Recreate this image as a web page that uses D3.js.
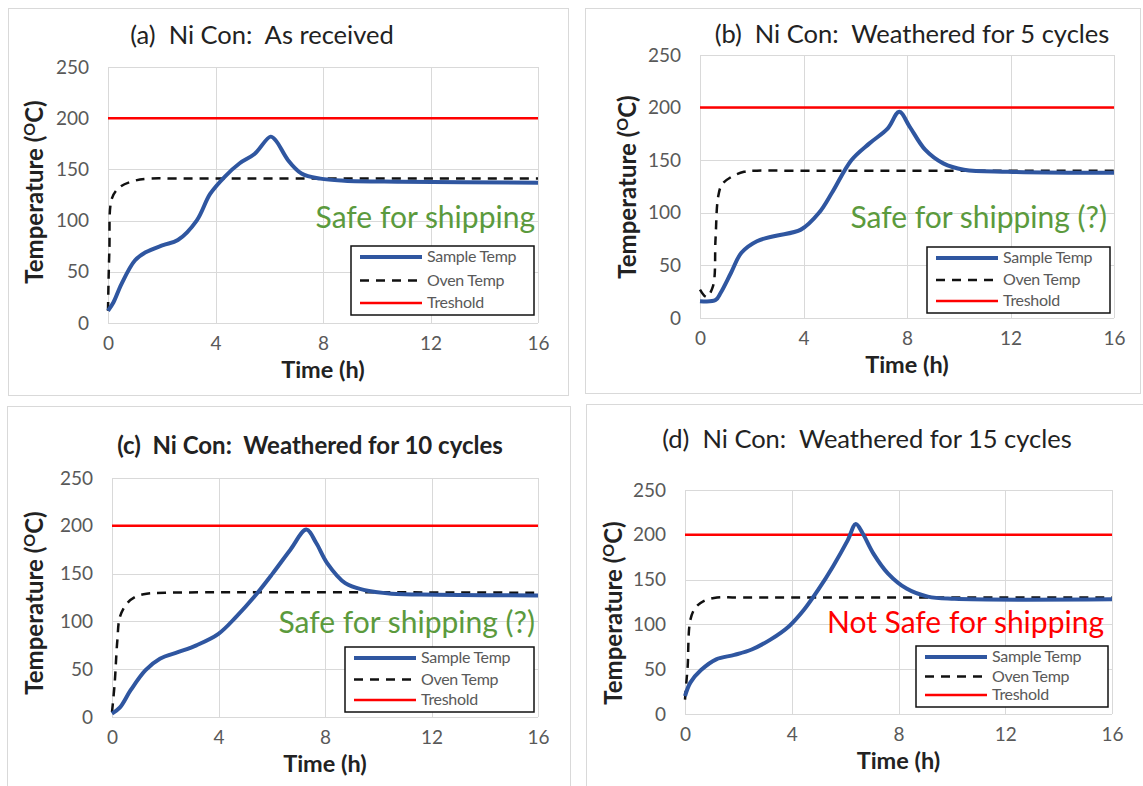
<!DOCTYPE html>
<html>
<head>
<meta charset="utf-8">
<script src="https://cdn.jsdelivr.net/npm/d3@7"></script>
<style>
  body { margin: 0; background: #fff; }
  text { font-family: Lato, "Open Sans", sans-serif; }
</style>
</head>
<body>
<svg id="svg" width="1143" height="786"></svg>
<script>
// tick labels
const xTicks = [0, 4, 8, 12, 16];
const yTicks = [0, 50, 100, 150, 200, 250];
const legendLabels = ["Sample Temp", "Oven Temp", "Treshold"];
const threshold = 200;

// (a) as received
const sampleTimeA = [0, 0.2, 0.5, 1, 1.4, 2.05, 2.6, 3.3, 3.8, 4.35, 4.9, 5.45, 6.05, 6.25, 6.7, 7.2, 7.9, 8.8, 10.9, 16];
const sampleTempA = [12, 20, 38, 61, 69, 76, 81, 100, 126, 143, 156, 165, 182, 178, 159, 146, 141, 139, 138, 137];
const ovenTimeA = [0, 0.05, 0.15, 0.45, 1, 1.5, 3, 16];
const ovenTempA = [12, 70, 122, 133, 139, 141, 141, 141];

// (b) 5 cycles
const sampleTimeB = [0, 0.6, 0.8, 1.2, 1.6, 2.2, 2.9, 3.9, 4.6, 5.1, 5.85, 6.55, 7.25, 7.7, 8.1, 8.7, 9.4, 10.2, 11.9, 16];
const sampleTempB = [16, 17, 24, 43, 62, 73, 78, 84, 100, 119, 150, 166, 180, 196, 182, 160, 147, 141, 139, 138];
const ovenTimeB = [0, 0.25, 0.5, 0.6, 0.7, 0.85, 1.2, 1.7, 2.2, 4, 16];
const ovenTempB = [27, 20, 30, 75, 115, 127, 134, 139, 140, 140, 140];

// (c) 10 cycles
const sampleTimeC = [0, 0.3, 0.7, 1.26, 1.8, 2.5, 3.17, 4, 4.67, 5.35, 6.03, 6.7, 7.3, 7.67, 8.08, 8.76, 9.45, 10.5, 12.2, 16];
const sampleTempC = [3.5, 10, 28, 49, 61, 68, 75, 87, 105, 126, 150, 175, 196, 182, 161, 140, 133, 129, 128, 127];
const ovenTimeC = [0, 0.1, 0.2, 0.3, 0.57, 0.9, 1.3, 2, 16];
const ovenTempC = [5, 35, 80, 105, 119, 126, 129, 130, 130];

// (d) 15 cycles
const sampleTimeD = [0, 0.2, 0.6, 1.17, 1.85, 2.5, 3.2, 3.9, 4.45, 5, 5.55, 6.1, 6.4, 6.65, 7.06, 7.6, 8.3, 9.1, 10.1, 16];
const sampleTempD = [20, 35, 49, 61, 66, 72, 83, 98, 116, 139, 165, 194, 212, 202, 179, 157, 140, 131, 128.5, 128];
const ovenTimeD = [0, 0.05, 0.1, 0.2, 0.4, 0.7, 1.2, 2, 16];
const ovenTempD = [16, 35, 53, 105, 119, 126, 130, 130, 130];

const titles = [
  "(a)  Ni Con:  As received",
  "(b)  Ni Con:  Weathered for 5 cycles",
  "(c)  Ni Con:  Weathered for 10 cycles",
  "(d)  Ni Con:  Weathered for 15 cycles"
];
const notes = ["Safe for shipping", "Safe for shipping (?)", "Safe for shipping (?)", "Not Safe for shipping"];

const panels = [
  { frame: [8, 8, 560, 387], plot: { l: 108, r: 538, t: 67, b: 323 }, titleX: 262, titleY: 44, bold: false,
    yTitleX: 35, yTitleY: 192, legend: { x: 351, y: 246, w: 183, h: 69 }, noteX: 535, noteY: 228, noteColor: "#5b9a3d",
    st: sampleTimeA, sv: sampleTempA, ot: ovenTimeA, ov: ovenTempA },
  { frame: [585, 8, 555, 385], plot: { l: 700, r: 1114, t: 55, b: 318 }, titleX: 912, titleY: 43, bold: false,
    yTitleX: 628, yTitleY: 187, legend: { x: 927, y: 247, w: 183, h: 66 }, noteX: 1107, noteY: 228, noteColor: "#5b9a3d",
    st: sampleTimeB, sv: sampleTempB, ot: ovenTimeB, ov: ovenTempB },
  { frame: [7, 406, 563, 390], plot: { l: 112, r: 538, t: 478, b: 717 }, titleX: 310, titleY: 454, bold: true,
    yTitleX: 35, yTitleY: 603, legend: { x: 345, y: 647, w: 189, h: 65 }, noteX: 535, noteY: 633, noteColor: "#5b9a3d",
    st: sampleTimeC, sv: sampleTempC, ot: ovenTimeC, ov: ovenTempC },
  { frame: [586, 404, 557, 392], plot: { l: 685, r: 1112, t: 490, b: 714 }, titleX: 867, titleY: 448, bold: false,
    yTitleX: 614, yTitleY: 613, legend: { x: 916, y: 646, w: 192, h: 61 }, noteX: 1104, noteY: 633, noteColor: "#ff0000",
    st: sampleTimeD, sv: sampleTempD, ot: ovenTimeD, ov: ovenTempD }
];

const svg = d3.select("#svg");
const blue = "#2f56a0";

panels.forEach((p, i) => {
  const g = svg.append("g");

  g.append("rect").attr("x", p.frame[0] + 0.5).attr("y", p.frame[1] + 0.5)
    .attr("width", p.frame[2]).attr("height", p.frame[3])
    .attr("fill", "none").attr("stroke", "#d9d9d9");

  const x = d3.scaleLinear().domain([0, 16]).range([p.plot.l, p.plot.r]);
  const y = d3.scaleLinear().domain([0, 250]).range([p.plot.b, p.plot.t]);

  // grid
  g.append("g").selectAll("line").data(yTicks).enter().append("line")
    .attr("x1", p.plot.l).attr("x2", p.plot.r)
    .attr("y1", d => Math.round(y(d)) + 0.5).attr("y2", d => Math.round(y(d)) + 0.5)
    .attr("stroke", "#d9d9d9");
  g.append("g").selectAll("line").data(xTicks).enter().append("line")
    .attr("y1", p.plot.t).attr("y2", p.plot.b)
    .attr("x1", d => Math.round(x(d)) + 0.5).attr("x2", d => Math.round(x(d)) + 0.5)
    .attr("stroke", "#d9d9d9");

  // axes labels
  const yAxis = g.append("g").attr("transform", "translate(" + (p.plot.l - 19) + ",0)")
    .call(d3.axisLeft(y).tickValues(yTicks).tickSize(0).tickPadding(0));
  const xAxis = g.append("g").attr("transform", "translate(0," + (p.plot.b + 13) + ")")
    .call(d3.axisBottom(x).tickValues(xTicks).tickSize(0).tickPadding(0));
  [yAxis, xAxis].forEach(a => {
    a.select(".domain").remove();
    a.selectAll("text").attr("font-family", "Lato, sans-serif").attr("font-size", 19).attr("fill", "#595959");
  });

  // series
  const line = d3.line().x(d => x(d[0])).y(d => y(d[1])).curve(d3.curveCatmullRom.alpha(0.5));
  g.append("line").attr("x1", x(0)).attr("x2", x(16)).attr("y1", y(threshold)).attr("y2", y(threshold))
    .attr("stroke", "#ff0000").attr("stroke-width", 2.5);
  g.append("path").datum(p.ot.map((t, k) => [t, p.ov[k]])).attr("d", line)
    .attr("fill", "none").attr("stroke", "#111").attr("stroke-width", 2.5).attr("stroke-dasharray", "9,7");
  g.append("path").datum(p.st.map((t, k) => [t, p.sv[k]])).attr("d", line)
    .attr("fill", "none").attr("stroke", blue).attr("stroke-width", 4).attr("stroke-linejoin", "round");

  // titles
  g.append("text").attr("x", p.titleX).attr("y", p.titleY).attr("text-anchor", "middle")
    .attr("font-size", p.bold ? 24 : 25.5).attr("font-weight", p.bold ? "bold" : "normal").attr("fill", "#222")
    .attr("xml:space", "preserve").text(titles[i]);

  g.append("text").attr("x", (p.plot.l + p.plot.r) / 2).attr("y", p.plot.b + 55).attr("text-anchor", "middle")
    .attr("font-size", 23.5).attr("font-weight", "bold").attr("fill", "#222").text("Time (h)");

  const yt = g.append("text").attr("transform", "translate(" + (p.yTitleX + 8) + "," + p.yTitleY + ") rotate(-90)")
    .attr("text-anchor", "middle").attr("font-size", 24).attr("font-weight", "bold").attr("fill", "#222");
  yt.append("tspan").text("Temperature (");
  yt.append("tspan").attr("font-size", 16).attr("dy", -8).text("O");
  yt.append("tspan").attr("dy", 8).text("C)");

  // note
  g.append("text").attr("x", p.noteX).attr("y", p.noteY).attr("text-anchor", "end")
    .attr("font-size", 30).attr("fill", p.noteColor).text(notes[i]);

  // legend
  const L = p.legend;
  const lg = g.append("g");
  lg.append("rect").attr("x", L.x).attr("y", L.y).attr("width", L.w).attr("height", L.h)
    .attr("fill", "#fff").attr("stroke", "#111").attr("stroke-width", 1.5);
  const rowY = [L.y + 11, L.y + L.h / 2, L.y + L.h - 12];
  const styles = [
    { c: blue, w: 4, dash: null },
    { c: "#111", w: 2.5, dash: "9,7" },
    { c: "#ff0000", w: 2.5, dash: null }
  ];
  legendLabels.forEach((lab, k) => {
    lg.append("line").attr("x1", L.x + 9).attr("x2", L.x + 71).attr("y1", rowY[k]).attr("y2", rowY[k])
      .attr("stroke", styles[k].c).attr("stroke-width", styles[k].w).attr("stroke-dasharray", styles[k].dash);
    lg.append("text").attr("x", L.x + 76).attr("y", rowY[k] + 5).attr("font-size", 16)
      .attr("letter-spacing", -0.3).attr("fill", "#595959").text(lab);
  });
});
</script>
</body>
</html>
